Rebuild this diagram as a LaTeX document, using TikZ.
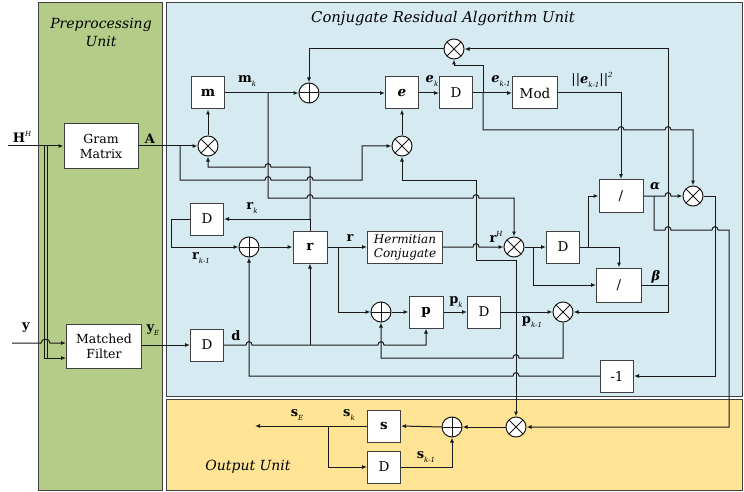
\documentclass[tikz,border=0pt]{standalone}
\usepackage{fontspec}
\setmainfont{DejaVu Serif}
\usetikzlibrary{arrows.meta}
\definecolor{pgreen}{RGB}{181,204,136}
\definecolor{pblue}{RGB}{214,234,241}
\definecolor{pyellow}{RGB}{255,228,150}
\definecolor{lnc}{RGB}{25,25,25}
\newcommand\hopR[2]{-- ({#1-3},#2) .. controls ({#1-3},{#2-4.5}) and ({#1+3},{#2-4.5}) .. ({#1+3},#2)}
\newcommand\hopL[2]{-- ({#1+3},#2) .. controls ({#1+3},{#2-4.5}) and ({#1-3},{#2-4.5}) .. ({#1-3},#2)}
\newcommand\lsub[1]{\raisebox{-0.5ex}{\fontsize{7}{7}\selectfont\mdseries\itshape #1}}
\newcommand\lsup[1]{\raisebox{0.9ex}{\fontsize{7}{7}\selectfont\mdseries\itshape #1}}
\tikzset{
  ln/.style={draw=lnc, line width=1pt},
  arr/.style={ln, -{Latex[length=5pt,width=4pt]}},
  box/.style={draw=black!75, fill=white, line width=1pt, minimum width=33pt, minimum height=32pt, inner sep=0pt, font=\fontsize{13.5}{14}\selectfont},
  wbox/.style={box, align=center, font=\fontsize{12.5}{15}\selectfont},
  mult/.style={circle, draw=black!90, fill=white, line width=1pt, minimum size=20pt, inner sep=0pt,
    path picture={\draw[line width=1pt] (path picture bounding box.north west) -- (path picture bounding box.south east) (path picture bounding box.north east) -- (path picture bounding box.south west);}},
  add/.style={circle, draw=black!90, fill=white, line width=1pt, minimum size=20pt, inner sep=0pt,
    path picture={\draw[line width=1pt] (path picture bounding box.north) -- (path picture bounding box.south) (path picture bounding box.east) -- (path picture bounding box.west);}},
  lbl/.style={inner sep=0pt, font=\fontsize{13}{14}\selectfont\bfseries},
  title/.style={inner sep=0pt, font=\fontsize{14}{18}\selectfont\itshape, align=center},
  panel/.style={line width=1pt, draw=black!75}
}
\begin{document}
\begin{tikzpicture}[x=1pt,y=-1pt]
\useasboundingbox (0,0) rectangle (744,492);
% panels
\filldraw[panel, fill=pgreen] (38,3) rectangle (162,490);
\filldraw[panel, fill=pblue] (166,3) rectangle (742,396);
\filldraw[panel, fill=pyellow] (166,399) rectangle (742,490);
\node[title] (tpre) at (101,32) {Preprocessing\\Unit};
\node[title, font=\fontsize{14.8}{18}\selectfont\itshape] (tcra) at (443,19) {Conjugate Residual Algorithm Unit};
\node[title] (tout) at (248,467) {Output Unit};

% nodes
\node[wbox, minimum width=74pt, minimum height=44pt] (gram) at (101,146) {Gram\\Matrix};
\node[wbox, minimum width=75pt, minimum height=44pt] (mf) at (104,346) {Matched\\Filter};
\node[box] (m) at (208,93) {\textbf{m}};
\node[mult] (x1) at (208,146) {};
\node[add] (a1) at (309,93) {};
\node[box] (e) at (402,93) {\textbf{\textit{e}}};
\node[box] (De) at (456,93) {D};
\node[mult] (xt) at (454,49) {};
\node[box, minimum width=45pt] (mod) at (535,93) {Mod};
\node[mult] (xe) at (402,146) {};
\node[box, minimum width=44pt, minimum height=33pt] (diva) at (621,196) {/};
\node[mult] (xa) at (693,196) {};
\node[box] (Dr) at (207,219) {D};
\node[add] (ar) at (249,247) {};
\node[box, minimum width=34pt] (r) at (310,247) {\textbf{r}};
\node[wbox, minimum width=75pt, minimum height=32pt, font=\fontsize{12}{14}\selectfont\itshape] (herm) at (405,247) {Hermitian\\Conjugate};
\node[mult] (xr) at (514,247) {};
\node[box] (Drh) at (563,247) {D};
\node[box, minimum width=45pt, minimum height=34pt] (divb) at (619,285) {/};
\node[add] (ap) at (381,312) {};
\node[box, minimum width=34pt] (p) at (426,312) {\textbf{p}};
\node[box] (Dp) at (484,312) {D};
\node[mult] (xp) at (563,312) {};
\node[box] (Dd) at (207,345) {D};
\node[box] (neg) at (617,376) {-1};
\node[mult] (xo) at (516,427) {};
\node[add] (ao) at (452,427) {};
\node[box] (s) at (384,426) {\textbf{s}};
\node[box] (Ds) at (384,467) {D};

% free ends
\coordinate (Hin) at (8,146);
\coordinate (yin) at (12,343);
\coordinate (sE) at (255,426);

% preprocessing
\draw[arr] (Hin) -- (gram.west);
\draw[ln] (44,146) -- (44,358);
\draw[ln] (47,146) -- (47,358);
\draw[arr] (44,358) -- (mf.west |- 0,358);
\draw[arr] (yin) -- (41,343) .. controls (41,338) and (50,338) .. (50,343) -- (mf.west |- 0,343);
\draw[arr] (gram.east) -- (x1.west);
\draw[arr] (180,146) -- (180,180) \hopR{268}{180} \hopR{310}{180} -- (362,180) -- (362,146) -- (xe.west);
\draw[arr] (mf.east |- Dd.west) -- (Dd.west);

% d
\draw[arr] (Dd.east) \hopR{249}{345} \hopR{381}{345} -- (p.south |- 0,345) -- (p.south);
\draw[arr] (310,345) -- (r.south);

% r loop
\draw[arr] (ar.east) -- (r.west);
\draw[arr] (r.north) -- (r.north |- Dr.east) -- (Dr.east);
\draw[arr] (Dr.west) -- (171,219) -- (171,247) -- (ar.west);
\draw[arr] (310,219) -- (310,167) \hopL{268}{167} -- (208,167) -- (x1.south);

% m
\draw[arr] (x1.north) -- (m.south);
\draw[arr] (m.east) -- (a1.west);
\draw[arr] (268,93) -- (268,198) \hopR{310}{198} \hopR{476}{198} -- (514,198) -- (xr.north);

% e
\draw[arr] (a1.east) -- (e.west);
\draw[arr] (xe.north) -- (e.south);
\draw[arr] (e.east) -- (De.west);
\draw[arr] (De.east) -- (mod.west);
\draw[arr] (483,93) -- (483,66) -- (454,66) -- (xt.south);
\draw[arr] (483,93) -- (483,130) \hopR{621}{130} \hopR{668}{130} -- (693,130) -- (xa.north);
\draw[arr] (xt.west) -- (309,49) -- (a1.north);
\draw[arr] (mod.east) -- (621,93) -- (diva.north);

% alpha
\draw[arr] (diva.east) \hopR{668}{196} -- (xa.west);
\draw[arr] (654,196) -- (654,230) \hopR{668}{230} \hopR{715}{230} -- (729,230) -- (729,427) -- (xo.east);
\draw[arr] (xa.east) -- (715,196) -- (715,376) -- (neg.east);
\draw[arr] (neg.west) \hopL{516}{376} -- (249,376) -- (ar.south);

% beta
\draw[arr] (divb.east) -- (668,285) -- (668,312) -- (xp.east);
\draw[arr] (668,285) -- (668,49) -- (xt.east);

% r^H
\draw[arr] (r.east) -- (herm.west);
\draw[arr] (338,247) -- (338,312) -- (ap.west);
\draw[arr] (herm.east) \hopR{476}{247} -- (xr.west);
\draw[arr] (xr.east) -- (Drh.west);
\draw[arr] (533,247) -- (533,285) -- (divb.west);
\draw[arr] (Drh.east) -- (divb.north |- Drh.east) -- (divb.north);
\draw[arr] (588,247) -- (588,196) -- (diva.west);

% p
\draw[arr] (ap.east) -- (p.west);
\draw[arr] (p.east) -- (Dp.west);
\draw[arr] (Dp.east) -- (xp.west);
\draw[arr] (xp.south) -- (563,358) \hopL{516}{358} -- (381,358) -- (ap.south);
\draw[arr] (516,312) -- (516,260) -- (476,260) -- (476,180) -- (402,180) -- (xe.south);
\draw[arr] (516,312) -- (xo.north);

% output
\draw[arr] (xo.west) -- (ao.east);
\draw[arr] (ao.west) -- (s.east);
\draw[arr] (s.west) -- (sE);
\draw[arr] (328,426) -- (328,467) -- (Ds.west);
\draw[arr] (Ds.east) -- (452,467) -- (ao.south);

% labels
\node[lbl] (lH) at (22,137) {H\lsup{H}};
\node[lbl] (ly) at (26,328) {y};
\node[lbl] (lA) at (150,139) {A};
\node[lbl] (lyE) at (153,330) {y\lsub{E}};
\node[lbl] (lmk) at (247,81) {m\lsub{k}};
\node[lbl] (lek) at (432,81) {\textit{e}\lsub{k}};
\node[lbl] (lek1) at (501,81) {\textit{e}\lsub{k-1}};
\node[lbl, font=\fontsize{13}{14}\selectfont] (lnorm) at (592,80) {||\textbf{\textit{e}}\lsub{k-1}||\lsup{2}};
\node[lbl] (lal) at (655,186) {\textit{α}};
\node[lbl] (lbe) at (656,277) {\textit{β}};
\node[lbl] (lrk) at (252,208) {r\lsub{k}};
\node[lbl] (lrk1) at (201,258) {r\lsub{k-1}};
\node[lbl] (lr) at (350,238) {r};
\node[lbl] (lrH) at (496,237) {r\lsup{H}};
\node[lbl] (lpk) at (456,302) {p\lsub{k}};
\node[lbl] (lpk1) at (532,322) {p\lsub{k-1}};
\node[lbl] (ld) at (236,336) {d};
\node[lbl] (lsE) at (297,415) {s\lsub{E}};
\node[lbl] (lsk) at (349,415) {s\lsub{k}};
\node[lbl] (lsk1) at (426,457) {s\lsub{k-1}};
\end{tikzpicture}
\end{document}
